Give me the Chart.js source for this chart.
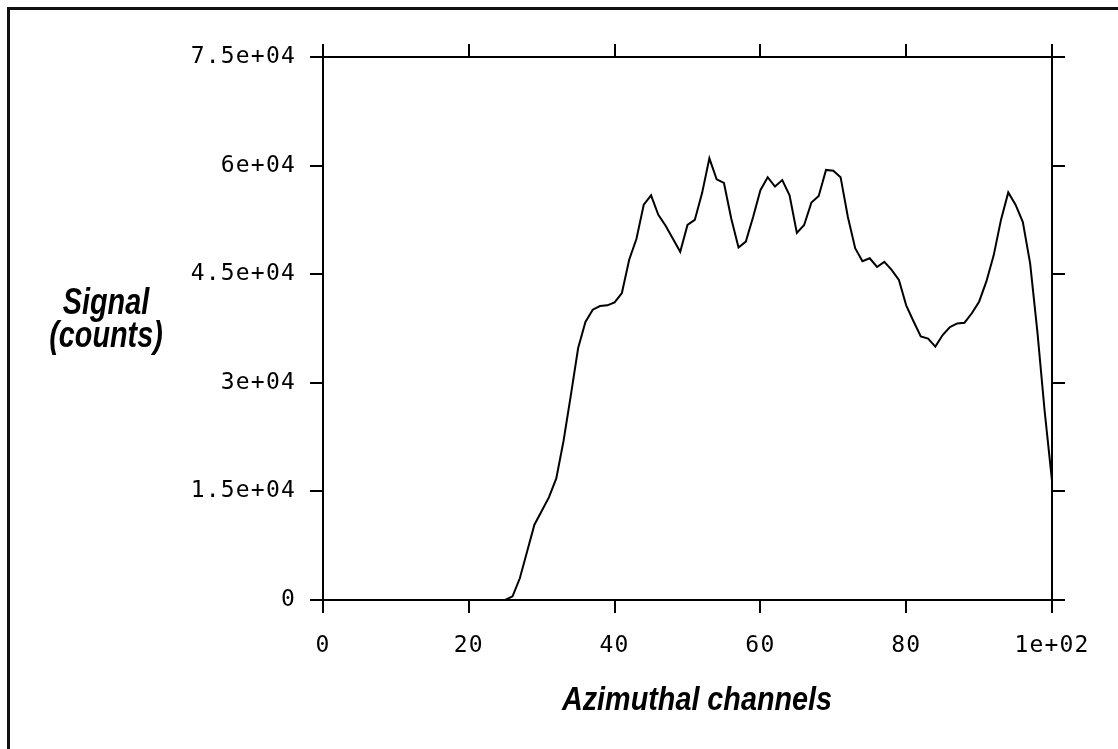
<!DOCTYPE html>
<html>
<head>
<meta charset="utf-8">
<script src="https://cdn.jsdelivr.net/npm/chart.js@4.4.1/dist/chart.umd.min.js"></script>
<style>
  html, body { margin: 0; padding: 0; background: #fff; }
  #wrap { position: relative; width: 1118px; height: 749px; overflow: hidden; background: #fff; }
  #frame { position: absolute; left: 7px; top: 7px; width: 1200px; height: 900px;
           border-left: 3px solid #111; border-top: 3px solid #111; }
  canvas { position: absolute; left: 0; top: 0; }
  .axis-title { position: absolute; font-family: 'Liberation Sans', Arial, sans-serif;
                font-weight: bold; font-style: italic; color: #000; white-space: nowrap;
                text-align: center; }
  #ytitle { left: 26px; top: 285px; width: 160px; font-size: 36px; line-height: 33px;
            transform: scaleX(0.8); }
  #xtitle { left: 447px; top: 678px; width: 500px; font-size: 34px; line-height: 40px;
            transform: scaleX(0.846); }
</style>
</head>
<body>
<div id="wrap">
  <div id="frame"></div>
  <canvas id="chart" width="1118" height="749"></canvas>
  <div id="ytitle" class="axis-title">Signal<br>(counts)</div>
  <div id="xtitle" class="axis-title">Azimuthal channels</div>
</div>
<script>
// Tick labels as printed on the axes
const xTickLabels = ['0', '20', '40', '60', '80', '1e+02'];
const yTickLabels = ['0', '1.5e+04', '3e+04', '4.5e+04', '6e+04', '7.5e+04'];

// Signal (counts) for azimuthal channels 0..100
const counts = [
  0, 0, 0, 0, 0, 0, 0, 0, 0, 0,
  0, 0, 0, 0, 0, 0, 0, 0, 0, 0,
  0, 0, 0, 0, 0, 0, 500, 3000, 6700, 10400,
  12300, 14200, 16800, 22000, 28300, 34800, 38400, 40100, 40600, 40700,
  41100, 42400, 47000, 49900, 54600, 55900, 53200, 51700, 49900, 48100,
  51800, 52500, 56200, 61000, 58100, 57600, 52700, 48700, 49500, 52900,
  56600, 58400, 57100, 58000, 55900, 50700, 51800, 54900, 55800, 59400,
  59300, 58400, 52900, 48600, 46800, 47200, 46000, 46700, 45600, 44200,
  40700, 38500, 36400, 36100, 35000, 36600, 37700, 38200, 38300, 39600,
  41200, 44000, 47600, 52500, 56300, 54600, 52200, 46500, 37000, 26000,
  16500
];

const points = counts.map((v, ch) => ({ x: ch, y: v }));

const axisGrid = {
  display: true,
  drawOnChartArea: false,
  drawTicks: true,
  tickLength: 13,
  color: '#000',
  lineWidth: 2
};
const axisBorder = { display: true, color: '#000', width: 2 };
const tickFont = { family: "'DejaVu Sans Mono', monospace", size: 23 };

// Slightly wider letter spacing for the plotter-style tick labels
const tickSpacing = {
  id: 'tickSpacing',
  beforeDraw(chart) { chart.ctx.letterSpacing = '1.2px'; },
  afterDraw(chart) { chart.ctx.letterSpacing = '0px'; }
};

new Chart(document.getElementById('chart'), {
  type: 'line',
  data: {
    datasets: [{
      data: points,
      borderColor: '#000',
      borderWidth: 2,
      pointRadius: 0,
      tension: 0,
      fill: false
    }]
  },
  options: {
    responsive: false,
    animation: false,
    events: [],
    layout: { padding: 0 },
    plugins: { legend: { display: false }, tooltip: { enabled: false } },
    scales: {
      x: {
        type: 'linear', position: 'bottom', min: 0, max: 100,
        grid: axisGrid, border: axisBorder,
        ticks: {
          stepSize: 20, color: '#000', font: tickFont, padding: 19, maxRotation: 0,
          callback: (v, i) => xTickLabels[i]
        },
        afterFit: s => { s.height = 149; }
      },
      xTop: {
        type: 'linear', position: 'top', min: 0, max: 100,
        grid: axisGrid, border: axisBorder,
        ticks: { stepSize: 20, display: false },
        afterFit: s => { s.height = 57; }
      },
      y: {
        type: 'linear', position: 'left', min: 0, max: 75000,
        grid: axisGrid, border: axisBorder,
        ticks: {
          stepSize: 15000, color: '#000', font: tickFont, padding: 14,
          callback: (v, i) => yTickLabels[i]
        },
        afterFit: s => { s.width = 323; }
      },
      yRight: {
        type: 'linear', position: 'right', min: 0, max: 75000,
        grid: axisGrid, border: axisBorder,
        ticks: { stepSize: 15000, display: false },
        afterFit: s => { s.width = 66; }
      }
    }
  },
  plugins: [tickSpacing]
});
</script>
</body>
</html>
